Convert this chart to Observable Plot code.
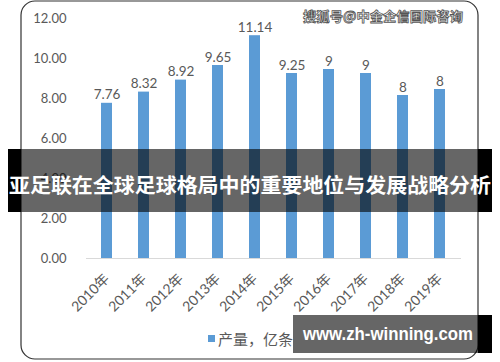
<!DOCTYPE html>
<html>
<head>
<meta charset="utf-8">
<script src="https://cdn.jsdelivr.net/npm/d3@7"></script>
<script src="https://cdn.jsdelivr.net/npm/@observablehq/plot@0.6"></script>
<style>
  html, body { margin: 0; padding: 0; background: #fff; }
  #chart { width: 500px; height: 362px; }
</style>
</head>
<body>
<div id="chart"></div>
<script>
const years = ["2010年","2011年","2012年","2013年","2014年","2015年","2016年","2017年","2018年","2019年"];
const values = [7.76, 8.32, 8.92, 9.65, 11.14, 9.25, 9.45, 9.25, 8.15, 8.45];
const labels = ["7.76","8.32","8.92","9.65","11.14","9.25","9","9","8","8"];
const yTicks = [0, 2, 4, 6, 8, 10, 12];
const seriesName = "产量，亿条";
const bannerTitle = "亚足联在全球足球格局中的重要地位与发展战略分析";
const watermark = "搜狐号@中金企信国际咨询";
const siteText = "www.zh-winning.com";

const data = years.map((y, i) => ({year: y, value: values[i], label: labels[i]}));
const font = "Lato, 'Noto Sans CJK SC', sans-serif";
const grey = "#595959";

const svg = Plot.plot({
  width: 500,
  height: 362,
  marginTop: 18,
  marginBottom: 104,
  marginLeft: 86,
  marginRight: 39,
  style: {fontFamily: font, background: "#fff"},
  x: {domain: years, paddingInner: 0.69, paddingOuter: 0.345, label: null},
  y: {domain: [0, 12], label: null},
  marks: [
    Plot.barY(data, {x: "year", y: "value", fill: "#5B9BD5"}),
    Plot.ruleY([0], {stroke: "#D9D9D9", strokeWidth: 1}),
    Plot.text(data, {x: "year", y: "value", text: "label", lineAnchor: "bottom", dy: -4, fill: grey, fontSize: 13.5}),
    Plot.axisY(yTicks, {tickFormat: d3.format(".2f"), tickSize: 0, tickPadding: 20, fontSize: 13, fill: grey}),
    Plot.axisX({tickSize: 0, tickPadding: 18, tickRotate: -45, fontSize: 14, fill: grey})
  ]
});
document.getElementById("chart").appendChild(svg);

const s = d3.select(svg);
// outer rounded frame
s.append("rect").attr("x", 21).attr("y", 1).attr("width", 457).attr("height", 358)
  .attr("rx", 14).attr("fill", "none").attr("stroke", "#333").attr("stroke-width", 1.2);

// legend
s.append("rect").attr("x", 208).attr("y", 335).attr("width", 7).attr("height", 7).attr("fill", "#5B9BD5");
s.append("text").attr("x", 218).attr("y", 339).attr("text-anchor", "start").attr("dominant-baseline", "central")
  .attr("font-size", 15).attr("fill", grey).attr("font-family", font)
  .attr("textLength", 75).attr("lengthAdjust", "spacingAndGlyphs").text(seriesName);

// watermark top right
s.append("text").attr("x", 303).attr("y", 15).attr("text-anchor", "start").attr("dominant-baseline", "central")
  .attr("font-size", 13).attr("font-weight", "bold").attr("fill", "#fff").attr("stroke", "#555").attr("stroke-width", 0.8)
  .attr("textLength", 160).attr("lengthAdjust", "spacingAndGlyphs")
  .attr("font-family", "'Noto Sans CJK SC', sans-serif").text(watermark);

// banner
s.append("rect").attr("x", 8).attr("y", 149).attr("width", 13).attr("height", 63).attr("fill", "#000");
s.append("rect").attr("x", 478).attr("y", 149).attr("width", 14).attr("height", 63).attr("fill", "#000");
s.append("rect").attr("x", 21).attr("y", 149).attr("width", 457).attr("height", 63).attr("fill", "#000").attr("fill-opacity", 0.6);
s.append("text").attr("x", 250).attr("y", 184).attr("text-anchor", "middle").attr("dominant-baseline", "central")
  .attr("font-size", 20).attr("font-weight", "bold").attr("fill", "#fff")
  .attr("textLength", 482).attr("lengthAdjust", "spacingAndGlyphs")
  .attr("font-family", "'Noto Sans CJK SC', sans-serif").text(bannerTitle);

// bottom site box
s.append("rect").attr("x", 293).attr("y", 315).attr("width", 185).attr("height", 38).attr("fill", "#000").attr("fill-opacity", 0.6);
s.append("rect").attr("x", 478).attr("y", 315).attr("width", 14).attr("height", 38).attr("fill", "#000");
s.append("text").attr("x", 303).attr("y", 334).attr("text-anchor", "start").attr("dominant-baseline", "central")
  .attr("font-size", 18).attr("font-weight", "bold").attr("fill", "#fff")
  .attr("textLength", 170).attr("lengthAdjust", "spacingAndGlyphs")
  .attr("font-family", "'Liberation Sans', Arial, sans-serif").text(siteText);
</script>
</body>
</html>
